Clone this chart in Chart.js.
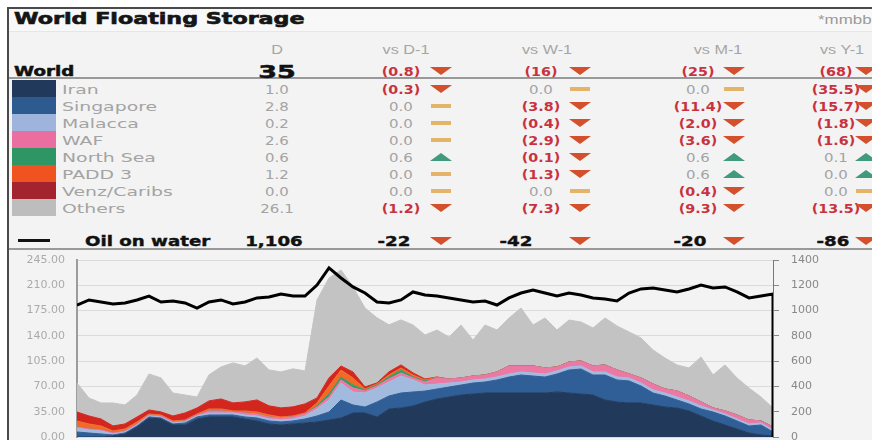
<!DOCTYPE html>
<html>
<head>
<meta charset="utf-8">
<script src="https://cdn.jsdelivr.net/npm/chart.js@4.4.1/dist/chart.umd.min.js"></script>
<style>
html, body { margin: 0; padding: 0; background: #fff; }
#wrap { position: relative; width: 872px; height: 440px; overflow: hidden; background: #fff; }
#frame { position: absolute; left: 7px; top: 7px; width: 865px; height: 433px; box-sizing: border-box;
         border-top: 2px solid #4a4a4a; border-left: 2px solid #4a4a4a; background: #f3f3f3; }
#titleBand { position: absolute; left: 9px; top: 9px; width: 863px; height: 22px; background: #f8f8f8; border-bottom: 1px solid #e6e6e6; }
.rule { position: absolute; left: 9px; width: 863px; height: 2px; background: #999; }
.sw { position: absolute; left: 12px; width: 44px; height: 17px; }
.tx { position: absolute; white-space: nowrap; line-height: 1; }
.ind { position: absolute; width: 0; height: 0; }
#chartBox { position: absolute; left: 0; top: 250px; width: 872px; height: 190px; }
</style>
</head>
<body>
<div id="wrap">
  <div id="frame"></div>
  <div id="titleBand"></div>
  <div class="rule" style="top:77px"></div>
  <div class="rule" style="top:248px"></div>
  <div id="chartBox"><canvas id="storageChart" width="872" height="190"></canvas></div>
</div>
<script>
// --- tabla superior ---
const regions = ['Iran', 'Singapore', 'Malacca', 'WAF', 'North Sea', 'PADD 3', 'Venz/Caribs', 'Others'];
const swatchColors = ['#213a5c', '#2e5b8f', '#9fb4dc', '#ea6fa0', '#2e9564', '#f0531f', '#a3232e', '#bdbdbd'];
const areaColors = ['#213a5c', '#2f5f96', '#a3badf', '#ec78a4', '#3a9a66', '#f26a28', '#d2261f', '#c3c3c3'];

const colHeads = ['D', 'vs D-1', 'vs W-1', 'vs M-1', 'vs Y-1'];
const worldD = '35';
const worldChg = [-0.8, -16, -25, -68];
const dVal = [1.0, 2.8, 0.2, 2.6, 0.6, 1.2, 0.0, 26.1];
const vsD1 = [-0.3, 0.0, 0.0, 0.0, 0.6, 0.0, 0.0, -1.2];
const vsW1 = [0.0, -3.8, -0.4, -2.9, -0.1, -1.3, 0.0, -7.3];
const vsM1 = [0.0, -11.4, -2.0, -3.6, 0.6, 0.6, -0.4, -9.3];
const vsY1 = [-35.5, -15.7, -1.8, -1.6, 0.1, 0.04, 0.0, -13.5];
const oilD = '1,106';
const oilChg = [-22, -42, -20, -86];

// --- series del gráfico (mmbbls, eje izq.) ---
const days = [0,1,2,3,4,5,6,7,8,9,10,11,12,13,14,15,16,17,18,19,20,21,22,23,24,25,26,27,28,29,
              30,31,32,33,34,35,36,37,38,39,40,41,42,43,44,45,46,47,48,49,50,51,52,53,54,55,56,57,58];
const iran = [0,0,0,1.4,4.2,13.8,26.3,24.9,16.6,16.6,24.9,27.7,27.7,27.7,24.9,22.1,18.0,16.6,18.0,19.4,
              20.8,23.5,26.3,33.2,33.2,27.7,38.8,40.1,42.9,48.4,52.6,55.4,58.1,59.5,60.9,60.9,60.9,60.9,60.9,60.9,
              62.3,60.9,59.5,58.1,51.2,48.4,47.1,47.1,44.3,41.5,40.1,36.0,29.1,22.1,16.6,11.1,5.5,2.8,1.4];
const singapore = [6.9,5.5,4.2,1.4,1.4,1.4,1.4,1.4,1.4,2.8,2.8,2.8,2.8,2.8,2.8,4.2,4.2,4.2,4.2,5.5,
              8.3,11.1,24.9,11.1,8.3,20.8,18.0,20.8,19.4,15.2,13.8,13.8,13.8,15.2,15.2,18.0,22.1,24.9,23.5,22.1,
              24.9,31.8,34.6,27.7,34.6,30.5,30.5,23.5,16.6,15.2,11.1,9.7,9.7,12.5,12.5,11.1,9.7,13.8,5.5];
const malacca = [5.5,4.2,4.2,1.4,1.4,1.4,1.4,1.4,1.4,1.4,1.4,2.8,2.8,2.8,2.8,2.8,2.8,2.8,2.8,4.2,
              9.7,16.6,23.5,18.0,19.4,19.4,19.4,23.5,16.6,8.3,6.9,5.5,4.2,4.2,4.2,4.2,4.2,4.2,4.2,4.2,
              4.2,4.2,4.2,4.2,4.2,4.2,4.2,4.2,4.2,4.2,4.2,4.2,4.2,2.8,2.8,2.8,2.8,2.8,2.8];
const waf = [1.4,1.4,1.4,1.4,1.4,1.4,1.4,1.4,1.4,1.4,1.4,2.8,2.8,1.4,2.8,2.8,2.8,2.8,2.8,2.8,
              2.8,4.2,4.2,5.5,2.8,2.8,4.2,4.2,2.8,4.2,8.3,5.5,5.5,5.5,5.5,6.9,11.1,8.3,9.7,8.3,
              5.5,6.9,6.9,8.3,9.7,9.7,5.5,6.9,8.3,5.5,8.3,6.9,5.5,2.8,4.2,5.5,5.5,2.8,4.2];
const northSea = [0,0,0,0,0,0,0,0,0,0,0,0,0,0,0,0,0,0,0,0,
              1.4,4.2,4.2,4.2,1.4,1.4,2.8,4.2,1.4,1.4,0,0,0,0,0,0,0,0,0,0,
              0,0,0,0,0,0,0,0,0,0,0,0,0,0,0,0,0,0,0];
const padd3 = [8.3,6.9,5.5,2.8,2.8,2.8,1.4,1.4,1.4,1.4,1.4,2.8,2.8,1.4,2.8,2.8,2.8,1.4,1.4,1.4,
              4.2,11.1,9.7,9.7,1.4,1.4,2.8,2.8,2.8,1.4,1.4,0,0,0,0,0,0,0,0,0,
              0,0,0,0,0,0,0,0,0,0,0,0,0,0,0,0,0,0,0];
const venz = [12.5,11.1,9.7,6.9,6.9,6.9,5.5,4.2,6.9,9.7,8.3,11.1,13.8,11.1,12.5,16.6,12.5,12.5,12.5,12.5,
              6.9,11.1,5.5,8.3,2.8,1.4,4.2,4.2,2.8,1.4,0,0,0,0,0,0,0,0,0,0,
              0,0,0,0,0,0,0,0,0,0,0,0,0,0,0,0,0,0,0];
const others = [40.1,24.9,22.1,31.8,26.3,30.5,49.8,47.1,31.8,24.9,15.2,36.0,44.3,55.4,49.8,58.1,49.8,49.8,52.6,45.7,
              135.6,138.4,132.9,117.7,109.3,90.0,65.1,62.3,66.4,60.9,65.1,58.1,73.4,49.8,69.2,58.1,66.4,80.3,56.8,69.2,
              51.2,58.1,54.0,52.6,65.1,60.9,58.1,55.4,47.1,42.9,36.0,38.8,62.3,45.7,63.7,51.2,44.3,33.2,26.3];
// Oil on water (eje der.), el último punto cae a cero
const oilDays = days.concat([58]);
const oilOnWater = [1044,1084,1068,1052,1060,1084,1115,1068,1076,1060,1020,1068,1084,1052,1068,1100,1107,1131,1115,1115,
              1202,1337,1258,1187,1139,1068,1060,1084,1147,1123,1115,1100,1084,1068,1076,1044,1100,1139,1163,1139,
              1115,1139,1123,1100,1092,1076,1139,1171,1179,1163,1147,1171,1202,1179,1187,1147,1100,1115,1131,0];
const leftTicks = [0, 35, 70, 105, 140, 175, 210, 245];
const rightTicks = [0, 200, 400, 600, 800, 1000, 1200, 1400];

// --- estilos de texto (la imagen original está estirada en horizontal) ---
const styles = {
    title: { font: 'bold 15px "DejaVu Sans"', color: '#151515', sx: 1.48, stroke: 0.6 },
    unit:  { font: '13px "Liberation Sans"', color: '#9a9a9a', sx: 1.3 },
    head:  { font: '12px "Liberation Sans"', color: '#a5a5a5', sx: 1.35 },
    world: { font: 'bold 14px "DejaVu Sans"', color: '#111', sx: 1.3, stroke: 0.5 },
    big:   { font: 'bold 18px "DejaVu Sans"', color: '#111', sx: 1.5, stroke: 0.5 },
    lab:   { font: '13px "DejaVu Sans"', color: '#a3a3a3', sx: 1.45 },
    num:   { font: '13px "DejaVu Sans"', color: '#a3a3a3', sx: 1.15 },
    neg:   { font: 'bold 13px "DejaVu Sans"', color: '#c8323e', sx: 1.1 },
    oil:   { font: 'bold 14px "DejaVu Sans"', color: '#111', sx: 1.3, stroke: 0.4 }
};

const wrap = document.getElementById('wrap');

function put(str, x, y, styleName, align) {
    const st = styles[styleName];
    const el = document.createElement('div');
    el.className = 'tx';
    el.textContent = str;
    el.style.font = st.font;
    el.style.color = st.color;
    if (st.stroke) el.style.webkitTextStroke = st.stroke + 'px ' + st.color;
    el.style.left = x + 'px';
    el.style.top = y + 'px';
    let tx = '0';
    let origin = 'left center';
    if (align === 'c') { tx = '-50%'; origin = 'center center'; }
    if (align === 'r') { tx = '-100%'; origin = 'right center'; }
    el.style.transformOrigin = origin;
    el.style.transform = 'translate(' + tx + ', -50%) scaleX(' + st.sx + ')';
    wrap.appendChild(el);
}

function indicator(v, cx, cy) {
    const el = document.createElement('div');
    el.className = 'ind';
    if (v < 0) {
        el.style.borderLeft = '11px solid transparent';
        el.style.borderRight = '11px solid transparent';
        el.style.borderTop = '8px solid #d4502c';
        el.style.left = (cx - 11) + 'px';
        el.style.top = (cy - 4) + 'px';
    } else if (v > 0) {
        el.style.borderLeft = '11px solid transparent';
        el.style.borderRight = '11px solid transparent';
        el.style.borderBottom = '8px solid #3f9b7c';
        el.style.left = (cx - 11) + 'px';
        el.style.top = (cy - 4) + 'px';
    } else {
        el.style.width = '20px';
        el.style.height = '4px';
        el.style.background = '#e4b46a';
        el.style.left = (cx - 10) + 'px';
        el.style.top = (cy - 2) + 'px';
    }
    wrap.appendChild(el);
}

function fmt(v, dec) {
    const s = Math.abs(v).toFixed(dec);
    return v < 0 ? '(' + s + ')' : s;
}

// columnas: centro del valor y del indicador
const dCol = 277;
const chgCols = [401, 541, 698, 836];
const indCols = [441, 580, 734, 866];
const headX = [277, 406, 547, 718, 820];

put('World Floating Storage', 14, 19, 'title', 'l');
put('*mmbbls', 818, 19, 'unit', 'l');
colHeads.forEach((h, i) => put(h, headX[i], 50, 'head', i === 4 ? 'l' : 'c'));

put('World', 14, 71, 'world', 'l');
put(worldD, dCol, 71, 'big', 'c');
worldChg.forEach((v, i) => {
    put(fmt(v, i === 0 ? 1 : 0), chgCols[i], 71, 'neg', 'c');
    indicator(v, indCols[i], 71);
});

const changes = [vsD1, vsW1, vsM1, vsY1];
regions.forEach((name, r) => {
    const top = 80 + r * 17;
    const cy = top + 8.5;
    const sw = document.createElement('div');
    sw.className = 'sw';
    sw.style.top = top + 'px';
    sw.style.background = swatchColors[r];
    wrap.appendChild(sw);
    put(name, 62, cy, 'lab', 'l');
    put(dVal[r].toFixed(1), dCol, cy, 'num', 'c');
    changes.forEach((arr, c) => {
        const v = arr[r];
        put(fmt(v, 1), chgCols[c], cy, v < 0 ? 'neg' : 'num', 'c');
        indicator(v, indCols[c], cy);
    });
});

// fila Oil on water
const oilSw = document.createElement('div');
oilSw.style.cssText = 'position:absolute;left:18px;top:239px;width:32px;height:3px;background:#111';
wrap.appendChild(oilSw);
put('Oil on water', 85, 241, 'oil', 'l');
put(oilD, 274, 241, 'oil', 'c');
const oilCols = [394, 516, 690, 833];
oilChg.forEach((v, i) => {
    put(String(v), oilCols[i], 241, 'oil', 'c');
    indicator(v, indCols[i], 241);
});

// --- gráfico ---
const series = [iran, singapore, malacca, waf, northSea, padd3, venz, others];
const datasets = series.map((vals, i) => ({
    label: regions[i],
    data: vals.map((v, k) => ({ x: days[k], y: v })),
    backgroundColor: areaColors[i],
    borderColor: areaColors[i],
    borderWidth: 1,
    pointRadius: 0,
    tension: 0,
    fill: i === 0 ? 'origin' : '-1',
    yAxisID: 'y',
    order: 1
}));
datasets.push({
    label: 'Oil on water',
    data: oilOnWater.map((v, k) => ({ x: oilDays[k], y: v })),
    borderColor: '#000',
    borderWidth: 3,
    pointRadius: 0,
    tension: 0,
    fill: false,
    yAxisID: 'y1',
    order: 0
});

new Chart(document.getElementById('storageChart'), {
    type: 'line',
    data: { datasets: datasets },
    options: {
        responsive: false,
        animation: false,
        layout: { padding: { top: 10, bottom: 3, left: 0, right: 0 } },
        plugins: { legend: { display: false }, tooltip: { enabled: false } },
        scales: {
            x: { type: 'linear', min: days[0], max: days[days.length - 1], display: false },
            y: {
                position: 'left', stacked: true,
                min: leftTicks[0], max: leftTicks[leftTicks.length - 1],
                afterBuildTicks: s => { s.ticks = leftTicks.map(v => ({ value: v })); },
                ticks: { callback: v => Number(v).toFixed(2), color: '#ababab', padding: 12,
                         font: { family: 'DejaVu Sans', size: 11 } },
                grid: { color: '#dadada', drawTicks: false },
                border: { color: '#9c9c9c', width: 2 },
                afterFit: s => { s.width = 77; s.paddingTop = 0; s.paddingBottom = 0; }
            },
            y1: {
                position: 'right',
                min: rightTicks[0], max: rightTicks[rightTicks.length - 1],
                afterBuildTicks: s => { s.ticks = rightTicks.map(v => ({ value: v })); },
                ticks: { callback: v => String(v), color: '#888', padding: 12,
                         font: { family: 'DejaVu Sans', size: 11 } },
                grid: { drawOnChartArea: false, tickLength: 6, color: '#888' },
                border: { color: '#777', width: 1 },
                afterFit: s => { s.width = 99; s.paddingTop = 0; s.paddingBottom = 0; }
            }
        }
    }
});
</script>
</body>
</html>
